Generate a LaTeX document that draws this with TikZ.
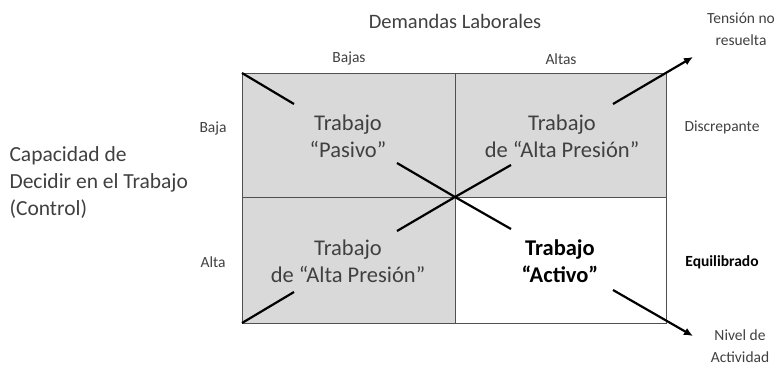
\documentclass[tikz,border=0pt]{standalone}
\usepackage{fontspec}
\setmainfont{Carlito}
\usetikzlibrary{arrows.meta}
\definecolor{cellgray}{HTML}{D9D9D9}
\definecolor{gridline}{HTML}{505050}
\definecolor{txt}{HTML}{404040}
\tikzset{
  cell/.style={draw=gridline, line width=0.9pt},
  diag/.style={black, line width=2.2pt},
  diagarrow/.style={diag, -{Latex[length=9pt,width=8pt]}},
  celltext/.style={text=txt, font=\fontsize{22.5}{27}\selectfont, align=center},
  small/.style={text=txt, font=\fontsize{15.5}{21.5}\selectfont, align=center},
  big/.style={text=txt, font=\fontsize{20.5}{24}\selectfont},
}
\begin{document}
\begin{tikzpicture}[x=1pt,y=-1pt]
\useasboundingbox (0,0) rectangle (778,368);
\clip (0,0) rectangle (778,368);
% cells
\fill[cellgray] (242,73) rectangle (666,197);
\fill[cellgray] (242,197) rectangle (455,323);
\draw[cell] (242,73) rectangle (666,323);
\draw[cell] (455,73) -- (455,323);
\draw[cell] (242,197) -- (666,197);
% coordinates
\coordinate (tl) at (242,73);
\coordinate (bl) at (242,323);
\coordinate (c) at (455,197);
\coordinate (a1) at (294,104);
\coordinate (a2) at (397,163);
\coordinate (a3) at (511,229);
\coordinate (a4) at (613,290);
\coordinate (a5) at (693,336);
\coordinate (b1) at (294,292);
\coordinate (b2) at (397,231);
\coordinate (b3) at (511,165);
\coordinate (b4) at (613,104);
\coordinate (b5) at (693,57);
% diagonals
\draw[diag] (tl) -- (a1);
\draw[diag] (a2) -- (c) -- (a3);
\draw[diagarrow] (a4) -- (a5);
\draw[diag] (bl) -- (b1);
\draw[diag] (b2) -- (c) -- (b3);
\draw[diagarrow] (b4) -- (b5);
% cell texts
\node[celltext] (pasivo) at (348,136) {Trabajo\\“Pasivo”};
\node[celltext] (altaA) at (562,136) {Trabajo\\de “Alta Presión”};
\node[celltext] (altaB) at (348,261) {Trabajo\\de “Alta Presión”};
\node[celltext, font=\fontsize{22.5}{27}\selectfont\bfseries, text=black] (activo) at (560,261) {Trabajo\\“Activo”};
% headings
\node[big] (dem) at (455,21) {Demandas Laborales};
\node[small] (bajas) at (349,58) {Bajas};
\node[small] (altas) at (561,59) {Altas};
\node[small] (baja) at (213,128) {Baja};
\node[small] (alta) at (213,262) {Alta};
\node[small] (disc) at (722,127) {Discrepante};
\node[small, font=\fontsize{15.5}{18}\selectfont\bfseries, text=black] (equi) at (722,262) {Equilibrado};
\node[big, align=left, anchor=west, font=\fontsize{21.5}{27}\selectfont] (cap) at (6,183) {Capacidad de\\Decidir en el Trabajo\\(Control)};
\node[small] (tens) at (741,29) {Tensión no\\resuelta};
\node[small] (nivel) at (740,346) {Nivel de\\Actividad};
\end{tikzpicture}
\end{document}
